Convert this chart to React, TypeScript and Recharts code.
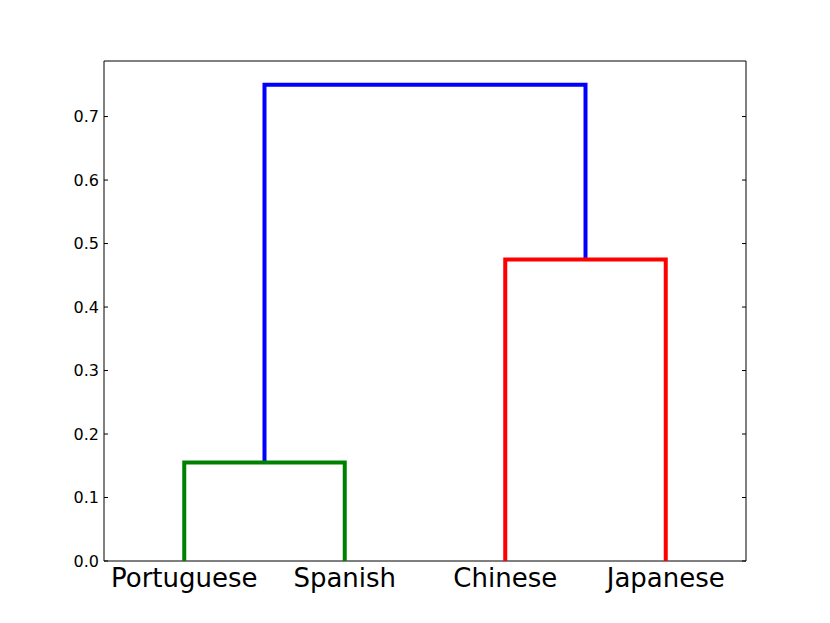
import React from "react";
import { ComposedChart, Scatter, XAxis, YAxis, ReferenceArea } from "recharts";

// Leaves of the dendrogram
const leafNames = ["Portuguese", "Spanish", "Chinese", "Japanese"];
const leafPositions = [5, 15, 25, 35];

// Link coordinates (scipy-style icoord / dcoord)
const icoord = [
  [10, 10, 30, 30],
  [5, 5, 15, 15],
  [25, 25, 35, 35],
];
const dcoord = [
  [0.155, 0.75, 0.75, 0.475],
  [0, 0.155, 0.155, 0],
  [0, 0.475, 0.475, 0],
];
const linkColors = ["#0000ff", "#008000", "#ff0000"];

const yTicks = [0, 0.1, 0.2, 0.3, 0.4, 0.5, 0.6, 0.7];
const X_DOMAIN: [number, number] = [0, 40];
const Y_DOMAIN: [number, number] = [0, 0.7875];

const W = 822;
const H = 615;
const MARGIN = { top: 53, right: 84, bottom: 22, left: 36 };
const Y_AXIS_W = 60;
const X_AXIS_H = 40;
const PLOT_LEFT = MARGIN.left + Y_AXIS_W;
const PLOT_RIGHT = W - MARGIN.right;
const FONT = "DejaVu Sans, sans-serif";

const links = icoord.map((xs, i) =>
  xs.map((x, j) => ({ x, y: dcoord[i][j] }))
);

const YTick = (props: any) => {
  const { y, payload } = props;
  return (
    <g>
      <line x1={PLOT_LEFT} x2={PLOT_LEFT + 4} y1={y} y2={y} stroke="#000" strokeWidth={1} />
      <line x1={PLOT_RIGHT - 4} x2={PLOT_RIGHT} y1={y} y2={y} stroke="#000" strokeWidth={1} />
      <text
        x={PLOT_LEFT - 5}
        y={y}
        textAnchor="end"
        dominantBaseline="central"
        fontFamily={FONT}
        fontSize={16}
        fill="#000"
      >
        {Number(payload.value).toFixed(1)}
      </text>
    </g>
  );
};

const XTick = (props: any) => {
  const { x, payload } = props;
  const idx = leafPositions.indexOf(payload.value);
  return (
    <text
      x={x}
      y={H - MARGIN.bottom - X_AXIS_H + 26}
      textAnchor="middle"
      fontFamily={FONT}
      fontSize={26}
      fill="#000"
    >
      {idx >= 0 ? leafNames[idx] : ""}
    </text>
  );
};

export default function App() {
  return (
    <div style={{ width: W, height: H, background: "#fff" }}>
      <ComposedChart width={W} height={H} margin={MARGIN}>
        <XAxis
          type="number"
          dataKey="x"
          domain={X_DOMAIN}
          ticks={leafPositions}
          tick={<XTick />}
          tickLine={false}
          axisLine={false}
          height={X_AXIS_H}
          allowDataOverflow
        />
        <YAxis
          type="number"
          dataKey="y"
          domain={Y_DOMAIN}
          ticks={yTicks}
          tick={<YTick />}
          tickLine={false}
          axisLine={false}
          width={Y_AXIS_W}
          allowDataOverflow
        />
        {links.map((pts, i) => (
          <Scatter
            key={i}
            data={pts}
            isAnimationActive={false}
            line={{ stroke: linkColors[i], strokeWidth: 4 }}
            lineType="joint"
            stroke={linkColors[i]}
            fill={linkColors[i]}
            shape={() => <g />}
          />
        ))}
        <ReferenceArea
          x1={X_DOMAIN[0]}
          x2={X_DOMAIN[1]}
          y1={Y_DOMAIN[0]}
          y2={Y_DOMAIN[1]}
          fill="none"
          fillOpacity={0}
          stroke="#000"
          strokeWidth={1}
          ifOverflow="visible"
        />
      </ComposedChart>
    </div>
  );
}
